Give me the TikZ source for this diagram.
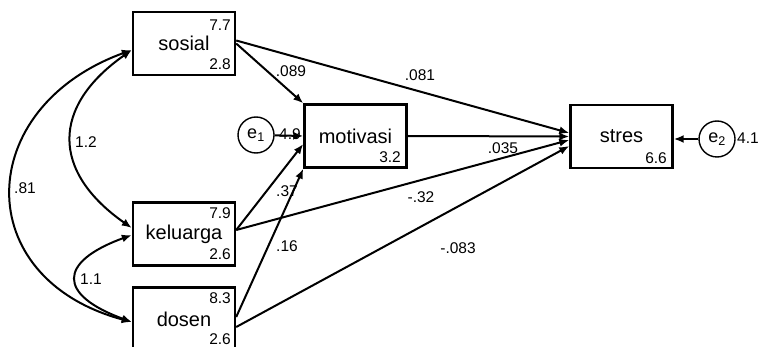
\documentclass[tikz,border=0pt]{standalone}
\usepackage{fontspec}
\setmainfont{Liberation Sans}
\usetikzlibrary{arrows.meta}
\newlength\varw
\setlength\varw{102pt}

\begin{document}
\begin{tikzpicture}[x=1pt,y=1pt,
  var/.style={draw,line width=2.4pt,minimum width=\varw,minimum height=63pt,inner sep=0pt,font=\fontsize{20}{22}\selectfont},
  err/.style={draw,circle,line width=1.4pt,minimum size=36pt,inner sep=0pt,font=\fontsize{18}{18}\selectfont},
  estim/.style={inner sep=0pt,font=\fontsize{15.5}{16}\selectfont},
  reg/.style={-{Latex[length=10pt,width=8pt]},line width=2pt},
  cov/.style={{Latex[length=10pt,width=8pt]}-{Latex[length=10pt,width=8pt]},line width=2pt}]
  \useasboundingbox (0,0) rectangle (762,-347);
  \node[var] at (184,-43.5) (sosial) {sosial};
  \node[var] at (184,-234) (keluarga) {keluarga};
  \node[var] at (184,-319) (dosen) {dosen};
  \node[var] at (355.5,-136) (motivasi) {motivasi};
  \node[var] at (621.5,-136.5) (stres) {stres};
  \node[err] at (256,-135) (e1) {e\textsubscript{1}};
  \node[err] at (717,-139) (e2) {e\textsubscript{2}};
  % numbers inside the boxes
  \node[estim,anchor=east] at (231,-25) (sosialm) {7.7};
  \node[estim,anchor=east] at (231,-64) (sosialv) {2.8};
  \node[estim,anchor=east] at (231,-213) (keluargam) {7.9};
  \node[estim,anchor=east] at (231,-254) (keluargav) {2.6};
  \node[estim,anchor=east] at (231,-298) (dosenm) {8.3};
  \node[estim,anchor=east] at (231,-339) (dosenv) {2.6};
  \node[estim,anchor=east] at (401,-157) (motivasiv) {3.2};
  \node[estim,anchor=east] at (667,-158) (stresv) {6.6};
  \node[estim] at (290,-134) (e1v) {4.9};
  \node[estim,anchor=west] at (737,-138) (e2v) {4.1};
  % paths
  \draw[reg] ([yshift=3pt]sosial.east) -- ([yshift=3.5pt]stres.west);
  \draw[reg] (sosial.east) -- (motivasi.north west);
  \draw[reg] (motivasi.east) -- (stres.west);
  \draw[reg] ([yshift=4pt]keluarga.east) -- ([yshift=-3.5pt]stres.west);
  \draw[reg] ([yshift=4pt]keluarga.east) -- ([yshift=-8pt]motivasi.west);
  \draw[reg] ([yshift=2pt]dosen.east) -- (motivasi.south west);
  \draw[reg] ([yshift=-8pt]dosen.east) -- ([yshift=-9.5pt]stres.west);
  \draw[reg] (e1) -- (motivasi.west);
  \draw[reg] (e2) -- (stres.east |- e2);
  \node[estim] at (291,-71) (sosmot) {.089};
  \node[estim] at (420,-75) (sosstr) {.081};
  \node[estim] at (503,-148) (motstr) {.035};
  \node[estim] at (421,-197) (kelstr) {-.32};
  \node[estim] at (287,-191) (kelmot) {.37};
  \node[estim] at (287,-246) (dosmot) {.16};
  \node[estim] at (458,-248) (dosstr) {-.083};
  % covariances
  \draw[cov] ([yshift=-6.5pt]sosial.west) [out=215,in=145,looseness=1.42] to ([yshift=6pt]keluarga.west);
  \draw[cov] ([yshift=-6.5pt]sosial.west) [out=200,in=165,looseness=1.59] to ([yshift=-3pt]dosen.west);
  \draw[cov] ([yshift=-1pt]keluarga.west) [out=200,in=160,looseness=2.33] to ([yshift=-3pt]dosen.west);
  \node[estim,anchor=west] at (75,-142) (soskel) {1.2};
  \node[estim,anchor=west] at (14,-188) (sosdos) {.81};
  \node[estim,anchor=west] at (80,-279) (keldos) {1.1};
\end{tikzpicture}
\end{document}
